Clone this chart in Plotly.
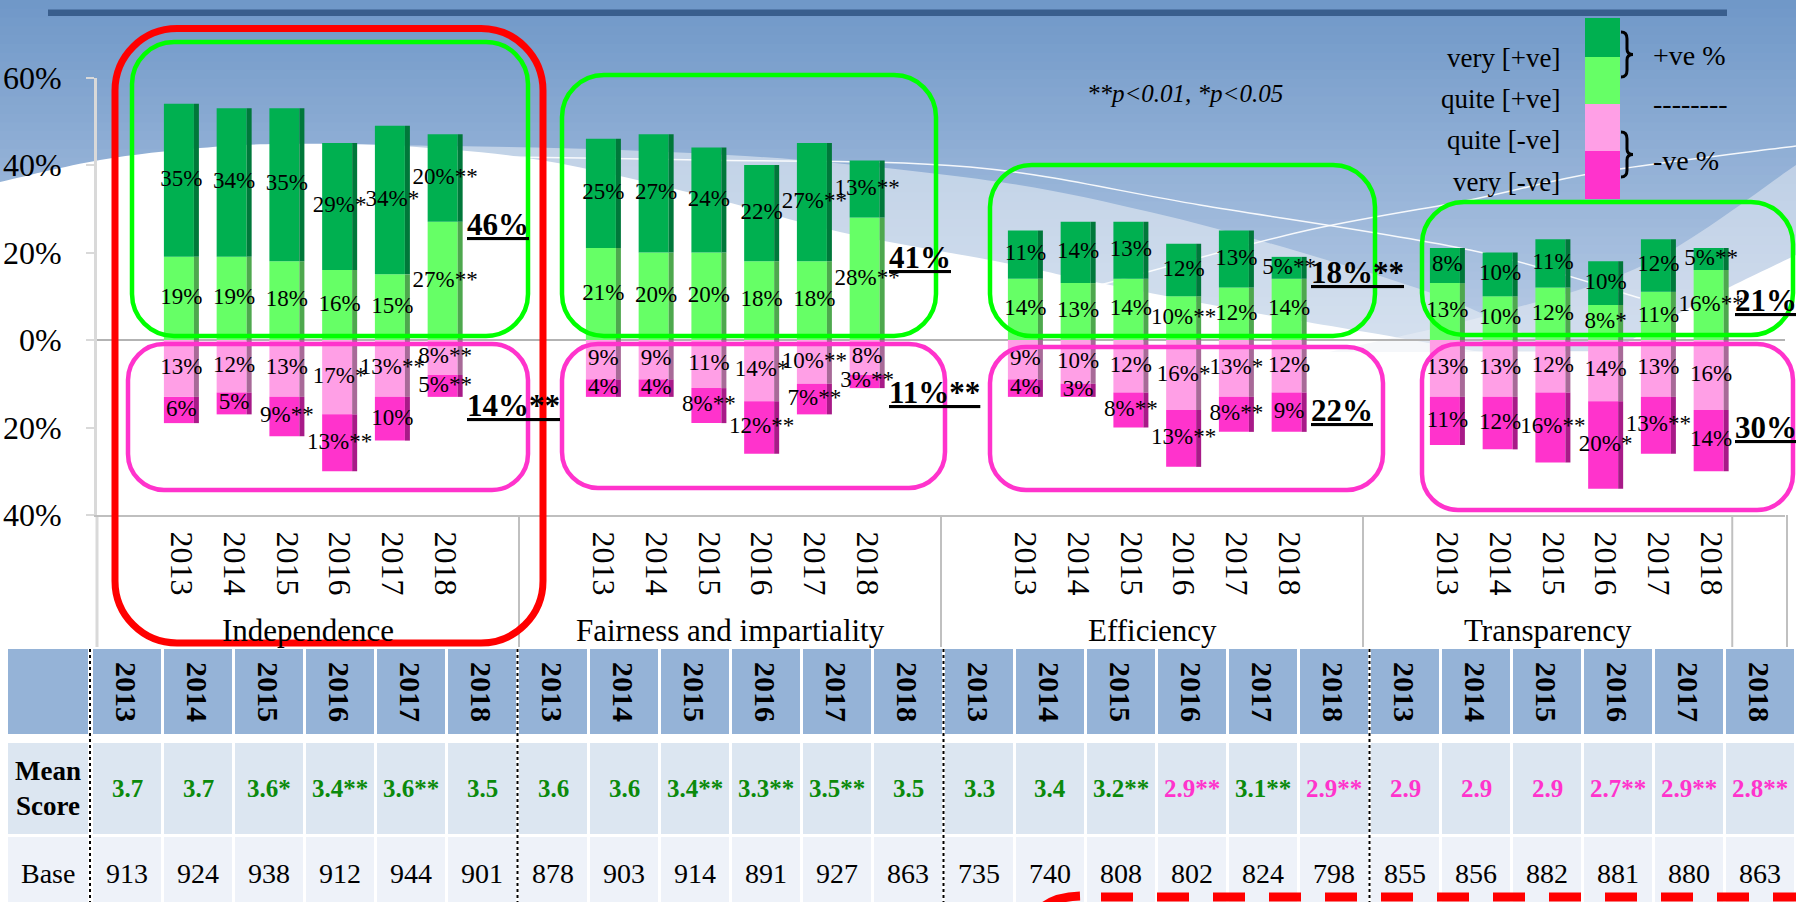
import plotly.graph_objects as go

W, H = 1796, 902
SERIF = "Liberation Serif, Times New Roman, serif"

# ---------------- data ----------------
groups = ["Independence", "Fairness and impartiality", "Efficiency", "Transparency"]
years = ["2013", "2014", "2015", "2016", "2017", "2018"]

very_pos = [35, 34, 35, 29, 34, 20, 25, 27, 24, 22, 27, 13,
            11, 14, 13, 12, 13, 5, 8, 10, 11, 10, 12, 5]
quite_pos = [19, 19, 18, 16, 15, 27, 21, 20, 20, 18, 18, 28,
             14, 13, 14, 10, 12, 14, 13, 10, 12, 8, 11, 16]
quite_neg = [13, 12, 13, 17, 13, 8, 9, 9, 11, 14, 10, 8,
             9, 10, 12, 16, 13, 12, 13, 13, 12, 14, 13, 16]
very_neg = [6, 5, 9, 13, 10, 5, 4, 4, 8, 12, 7, 3,
            4, 3, 8, 13, 8, 9, 11, 12, 16, 20, 13, 14]

sig_very_pos = ["", "", "", "*", "*", "**", "", "", "", "", "**", "**",
                "", "", "", "", "", "**", "", "", "", "", "", "**"]
sig_quite_pos = ["", "", "", "", "", "**", "", "", "", "", "", "**",
                 "", "", "", "**", "", "", "", "", "", "*", "", "**"]
sig_quite_neg = ["", "", "", "*", "**", "**", "", "", "", "*", "**", "",
                 "", "", "", "*", "*", "", "", "", "", "", "", ""]
sig_very_neg = ["", "", "**", "**", "", "**", "", "", "**", "**", "**", "**",
                "", "", "**", "**", "**", "", "", "", "**", "*", "**", ""]

pos_total = [46, 41, 18, 21]
pos_total_sig = ["", "", "**", ""]
neg_total = [14, 11, 22, 30]
neg_total_sig = ["**", "**", "", ""]

mean_scores = [3.7, 3.7, 3.6, 3.4, 3.6, 3.5, 3.6, 3.6, 3.4, 3.3, 3.5, 3.5,
               3.3, 3.4, 3.2, 2.9, 3.1, 2.9, 2.9, 2.9, 2.9, 2.7, 2.9, 2.8]
mean_sig = ["", "", "*", "**", "**", "", "", "", "**", "**", "**", "",
            "", "", "**", "**", "**", "**", "", "", "", "**", "**", "**"]
bases = [913, 924, 938, 912, 944, 901, 878, 903, 914, 891, 927, 863,
         735, 740, 808, 802, 824, 798, 855, 856, 882, 881, 880, 863]

# ---------------- geometry helpers ----------------
X0_PX, SLOT_PX = 97, 52.75          # left of category axis, width of one slot


def X(px):
    return px / W


def Y(py):
    return 1 - py / H


def u2px(u):
    return X0_PX + u * SLOT_PX


def fmt(x, y):
    return f"{X(x):.5f},{Y(y):.5f}"


def rrect(x0, y0, x1, y1, r):
    k = 0.5523 * r
    return ("M" + fmt(x0 + r, y0) + " L" + fmt(x1 - r, y0)
            + " C" + fmt(x1 - r + k, y0) + " " + fmt(x1, y0 + r - k) + " " + fmt(x1, y0 + r)
            + " L" + fmt(x1, y1 - r)
            + " C" + fmt(x1, y1 - r + k) + " " + fmt(x1 - r + k, y1) + " " + fmt(x1 - r, y1)
            + " L" + fmt(x0 + r, y1)
            + " C" + fmt(x0 + r - k, y1) + " " + fmt(x0, y1 - r + k) + " " + fmt(x0, y1 - r)
            + " L" + fmt(x0, y0 + r)
            + " C" + fmt(x0, y0 + r - k) + " " + fmt(x0 + r - k, y0) + " " + fmt(x0 + r, y0) + " Z")


def smooth(points):
    # Catmull-Rom through the points, emitted as cubic Beziers
    p = [points[0]] + points + [points[-1]]
    s = "M" + fmt(*points[0])
    for i in range(1, len(p) - 2):
        x1 = p[i][0] + (p[i + 1][0] - p[i - 1][0]) / 6
        y1 = p[i][1] + (p[i + 1][1] - p[i - 1][1]) / 6
        x2 = p[i + 1][0] - (p[i + 2][0] - p[i][0]) / 6
        y2 = p[i + 1][1] - (p[i + 2][1] - p[i][1]) / 6
        s += " C" + fmt(x1, y1) + " " + fmt(x2, y2) + " " + fmt(*p[i + 1])
    return s


def hexmix(c0, c1, t):
    a = [int(c0[i:i + 2], 16) for i in (1, 3, 5)]
    b = [int(c1[i:i + 2], 16) for i in (1, 3, 5)]
    return "#" + "".join(f"{round(a[j] + (b[j] - a[j]) * t):02x}" for j in range(3))


shapes = []
annotations = []

# ---------------- background ----------------
NB = 40
for i in range(NB):
    ya, yb = 350 * i / NB, 350 * (i + 1) / NB + 1
    shapes.append(dict(type="rect", xref="paper", yref="paper", layer="below",
                       x0=0, x1=1, y0=Y(yb), y1=Y(ya), line_width=0,
                       fillcolor=hexmix("#7098c8", "#b9cce6", i / (NB - 1))))

band_pts = [(270, 144), (450, 146), (620, 150), (800, 160), (1000, 182),
            (1150, 212), (1300, 252), (1450, 300), (1560, 352)]
shapes.append(dict(type="path", xref="paper", yref="paper", layer="below",
                   path=smooth(band_pts) + " L" + fmt(270, 352) + " Z",
                   fillcolor="rgba(235,240,246,0.55)", line_width=0))
white_pts = [(0, 182), (100, 160), (200, 148), (280, 144), (400, 146), (540, 160),
             (700, 195), (840, 232), (1000, 262), (1100, 283), (1250, 312),
             (1400, 338), (1480, 352)]
shapes.append(dict(type="path", xref="paper", yref="paper", layer="below",
                   path=smooth(white_pts) + " L" + fmt(0, 352) + " Z",
                   fillcolor="white", line_width=0))
rband_pts = [(1330, 352), (1500, 312), (1650, 262), (1796, 165)]
shapes.append(dict(type="path", xref="paper", yref="paper", layer="below",
                   path=smooth(rband_pts) + " L" + fmt(1796, 352) + " Z",
                   fillcolor="rgba(235,240,246,0.5)", line_width=0))
rwhite_pts = [(1610, 352), (1700, 302), (1796, 255)]
shapes.append(dict(type="path", xref="paper", yref="paper", layer="below",
                   path=smooth(rwhite_pts) + " L" + fmt(1796, 352) + " Z",
                   fillcolor="white", line_width=0))
line1 = [(430, 156), (700, 160), (970, 167), (1200, 205), (1470, 250), (1640, 298)]
line2 = [(1100, 285), (1300, 232), (1470, 200), (1600, 172), (1796, 146)]
for ln in (line1, line2):
    shapes.append(dict(type="path", xref="paper", yref="paper", layer="below",
                       path=smooth(ln), line=dict(color="rgba(255,255,255,0.9)", width=1.5)))

# dark rule across the top
shapes.append(dict(type="rect", xref="paper", yref="paper", layer="below",
                   x0=X(48), x1=X(1727), y0=Y(16), y1=Y(9.5),
                   fillcolor="#395e8d", line_width=0))

# ---------------- bars ----------------
xpos = [g * 8 + 1.6 + k for g in range(4) for k in range(6)]
FACE_W, FACE_OFF = 30 / SLOT_PX, -17.5 / SLOT_PX
EDGE_W, EDGE_OFF = 5 / SLOT_PX, 12.5 / SLOT_PX

segments = [
    (quite_pos, [0] * 24, "#66ff66", "#4ea84e"),
    (very_pos, quite_pos, "#00b050", "#00783a"),
    ([-v for v in quite_neg], [0] * 24, "#ff9fe6", "#a86a98"),
    ([-v for v in very_neg], [-v for v in quite_neg], "#ff33cc", "#a81a88"),
]
fig = go.Figure()
for vals, base, face, edge in segments:
    fig.add_trace(go.Bar(x=xpos, y=vals, base=base, width=FACE_W, offset=FACE_OFF,
                         marker=dict(color=face, line_width=0), hoverinfo="skip"))
    fig.add_trace(go.Bar(x=xpos, y=vals, base=base, width=EDGE_W, offset=EDGE_OFF,
                         marker=dict(color=edge, line_width=0), hoverinfo="skip"))

# value labels centred on each segment
lab_x, lab_y, lab_t = [], [], []
for i in range(24):
    qp, vp, qn, vn = quite_pos[i], very_pos[i], quite_neg[i], very_neg[i]
    for y, v, s in ((qp / 2, qp, sig_quite_pos[i]), (qp + vp / 2, vp, sig_very_pos[i]),
                    (-qn / 2, qn, sig_quite_neg[i]), (-(qn + vn / 2), vn, sig_very_neg[i])):
        lab_x.append(xpos[i])
        lab_y.append(y)
        lab_t.append(f"{v}%{s}")
fig.add_trace(go.Scatter(x=lab_x, y=lab_y, text=lab_t, mode="text",
                         textposition="middle center", cliponaxis=False,
                         textfont=dict(family=SERIF, size=23, color="black"),
                         hoverinfo="skip"))

# group totals, bold and underlined
pos_label_y = [26.3, 18.9, 15.5, 9.1]
neg_label_y = [-14.9, -11.9, -16.0, -20.1]
label_shift = [0, 0, 0, 0.04]
for g in range(4):
    for v, s, yy in ((pos_total[g], pos_total_sig[g], pos_label_y[g]),
                     (neg_total[g], neg_total_sig[g], neg_label_y[g])):
        annotations.append(dict(x=g * 8 + 6.97 + label_shift[g], y=yy, xref="x", yref="y",
                                xanchor="left", yanchor="middle", showarrow=False,
                                text=f"<b><u>{v}%{s}</u></b>",
                                font=dict(family=SERIF, size=31, color="black")))

# group names under the year labels (the last group ends at its inner divider)
group_centres = [4, 12, 20, 27.5]
for g, name in enumerate(groups):
    annotations.append(dict(x=group_centres[g], y=Y(630), xref="x", yref="paper",
                            xanchor="center", yanchor="middle", showarrow=False,
                            text=name, font=dict(family=SERIF, size=31, color="black")))

# axis extensions through the category band and group dividers
shapes.append(dict(type="line", xref="paper", yref="paper", layer="below",
                   x0=X(97), x1=X(97), y0=Y(515), y1=Y(647),
                   line=dict(color="#d9d9d9", width=3)))
for u in (8, 16, 24, 31.0):
    shapes.append(dict(type="line", xref="paper", yref="paper", layer="below",
                       x0=X(u2px(u)), x1=X(u2px(u)), y0=Y(515), y1=Y(647),
                       line=dict(color="#c0c0c0", width=2)))
shapes.append(dict(type="line", xref="paper", yref="paper", layer="below",
                   x0=X(u2px(32) + 2), x1=X(u2px(32) + 2), y0=Y(515), y1=Y(647),
                   line=dict(color="#c0c0c0", width=2)))

# ---------------- highlight boxes ----------------
green_boxes = [(132, 42, 528, 336), (562, 75, 936, 336), (990, 165, 1375, 336), (1422, 202, 1793, 335)]
pink_boxes = [(128, 344, 528, 490), (562, 344, 945, 488), (990, 347, 1383, 490), (1422, 344, 1793, 510)]
for b in green_boxes:
    shapes.append(dict(type="path", xref="paper", yref="paper", layer="above",
                       path=rrect(*b, 42), line=dict(color="#00ff00", width=4.5)))
for b in pink_boxes:
    shapes.append(dict(type="path", xref="paper", yref="paper", layer="above",
                       path=rrect(*b, 36), line=dict(color="#ff33cc", width=4.5)))
shapes.append(dict(type="path", xref="paper", yref="paper", layer="above",
                   path=rrect(115, 28.5, 543, 643, 62), line=dict(color="#ff0000", width=7)))

# ---------------- legend ----------------
legend_items = ["very [+ve]", "quite [+ve]", "quite [-ve]", "very [-ve]"]
legend_colors = ["#00b050", "#66ff66", "#ff9fe6", "#ff33cc"]
legend_edges = [18, 57, 104, 151, 199]
legend_text_y = [58, 99, 140, 182]
for i in range(4):
    shapes.append(dict(type="rect", xref="paper", yref="paper", layer="above",
                       x0=X(1585), x1=X(1620), y0=Y(legend_edges[i + 1]), y1=Y(legend_edges[i]),
                       fillcolor=legend_colors[i], line_width=0))
    annotations.append(dict(x=X(1562), y=Y(legend_text_y[i]), xref="paper", yref="paper",
                            xanchor="right", yanchor="middle", showarrow=False,
                            text=legend_items[i], font=dict(family=SERIF, size=27, color="black")))


def brace(x0, y0, y1, w):
    ym = (y0 + y1) / 2
    h = y1 - y0
    xm = x0 + w * 0.5
    return ("M" + fmt(x0, y0) + " Q" + fmt(xm, y0) + " " + fmt(xm, y0 + h * 0.15)
            + " L" + fmt(xm, ym - h * 0.12) + " Q" + fmt(xm, ym) + " " + fmt(x0 + w, ym)
            + " Q" + fmt(xm, ym) + " " + fmt(xm, ym + h * 0.12)
            + " L" + fmt(xm, y1 - h * 0.15) + " Q" + fmt(xm, y1) + " " + fmt(x0, y1))


for y0, y1 in ((32, 77), (132, 177)):
    shapes.append(dict(type="path", xref="paper", yref="paper", layer="above",
                       path=brace(1621, y0, y1, 12), line=dict(color="black", width=3)))
for txt, yy in (("+ve %", 55), ("--------", 104), ("-ve %", 160)):
    annotations.append(dict(x=X(1651), y=Y(yy), xref="paper", yref="paper",
                            xanchor="left", yanchor="middle", showarrow=False,
                            text=txt, font=dict(family=SERIF, size=28, color="black")))

annotations.append(dict(x=X(1185), y=Y(93), xref="paper", yref="paper",
                        xanchor="center", yanchor="middle", showarrow=False,
                        text="<i>**p&lt;0.01, *p&lt;0.05</i>",
                        font=dict(family=SERIF, size=25, color="black")))

# ---------------- table ----------------
COL0, COLW = 91.5, 71
ROWS = [(649, 734, "#95b3d7"), (743, 834, "#dce6f1"), (837, 905, "#eef2f9")]
for r, (ya, yb, col) in enumerate(ROWS):
    shapes.append(dict(type="rect", xref="paper", yref="paper", layer="below",
                       x0=X(8), x1=X(88), y0=Y(yb), y1=Y(ya), fillcolor=col, line_width=0))
    for i in range(24):
        xa = COL0 + COLW * i + 1.5
        shapes.append(dict(type="rect", xref="paper", yref="paper", layer="below",
                           x0=X(xa), x1=X(xa + COLW - 3), y0=Y(yb), y1=Y(ya),
                           fillcolor=col, line_width=0))
for i in range(24):
    cx = COL0 + COLW * (i + 0.5)
    annotations.append(dict(x=X(cx), y=Y(692), xref="paper", yref="paper", textangle=90,
                            xanchor="center", yanchor="middle", showarrow=False,
                            text=f"<b>{years[i % 6]}</b>",
                            font=dict(family=SERIF, size=30, color="black")))
    m = mean_scores[i]
    annotations.append(dict(x=X(cx), y=Y(788), xref="paper", yref="paper",
                            xanchor="center", yanchor="middle", showarrow=False,
                            text=f"<b>{m:.1f}{mean_sig[i]}</b>",
                            font=dict(family=SERIF, size=25,
                                      color="#0b8a0b" if m >= 3 else "#ff33cc")))
    annotations.append(dict(x=X(cx), y=Y(873), xref="paper", yref="paper",
                            xanchor="center", yanchor="middle", showarrow=False,
                            text=str(bases[i]), font=dict(family=SERIF, size=28, color="black")))
annotations.append(dict(x=X(48), y=Y(788), xref="paper", yref="paper",
                        xanchor="center", yanchor="middle", showarrow=False,
                        text="<b>Mean<br>Score</b>",
                        font=dict(family=SERIF, size=27, color="black")))
annotations.append(dict(x=X(48), y=Y(873), xref="paper", yref="paper",
                        xanchor="center", yanchor="middle", showarrow=False,
                        text="Base", font=dict(family=SERIF, size=28, color="black")))
for g in range(4):
    xd = 90 if g == 0 else COL0 + COLW * 6 * g
    shapes.append(dict(type="line", xref="paper", yref="paper", layer="above",
                       x0=X(xd), x1=X(xd), y0=Y(649), y1=Y(902),
                       line=dict(color="black", width=2, dash="3px,3px")))

# dashed red outline running off the bottom
shapes.append(dict(type="path", xref="paper", yref="paper", layer="above",
                   path="M" + fmt(1040, 910) + " Q" + fmt(1052, 897) + " " + fmt(1080, 896),
                   line=dict(color="#ff0000", width=9)))
shapes.append(dict(type="line", xref="paper", yref="paper", layer="above",
                   x0=X(1101), x1=X(1800), y0=Y(897), y1=Y(897),
                   line=dict(color="#ff0000", width=9, dash="32px,24px")))

# ---------------- layout ----------------
fig.update_layout(
    width=W, height=H, autosize=False,
    margin=dict(l=0, r=0, t=0, b=0, pad=0, autoexpand=False),
    paper_bgcolor="white", plot_bgcolor="rgba(0,0,0,0)",
    barmode="overlay", showlegend=False,
    shapes=shapes, annotations=annotations,
    xaxis=dict(domain=[X(97), X(1785)], range=[0, 32], tickmode="array",
               tickvals=xpos, ticktext=[years[i % 6] for i in range(24)],
               tickangle=90, ticks="", showgrid=False, zeroline=False,
               showline=True, linecolor="#bfbfbf", linewidth=2,
               ticklabelstandoff=8, automargin=False,
               tickfont=dict(family=SERIF, size=32, color="black")),
    yaxis=dict(domain=[Y(515), Y(77.5)], range=[-40, 60], tickmode="array",
               tickvals=[60, 40, 20, 0, -20, -40],
               ticktext=["60%", "40%", "20%", "0%", "20%", "40%"],
               showgrid=False, zeroline=True, zerolinecolor="#b3b3b3", zerolinewidth=2,
               showline=True, linecolor="#d9d9d9", linewidth=3,
               ticks="outside", ticklen=8, tickwidth=2, tickcolor="#d9d9d9",
               ticklabelstandoff=18, automargin=False,
               tickfont=dict(family=SERIF, size=32, color="black")),
)

fig.write_html("out.html", post_script="document.body.style.margin='0';")
